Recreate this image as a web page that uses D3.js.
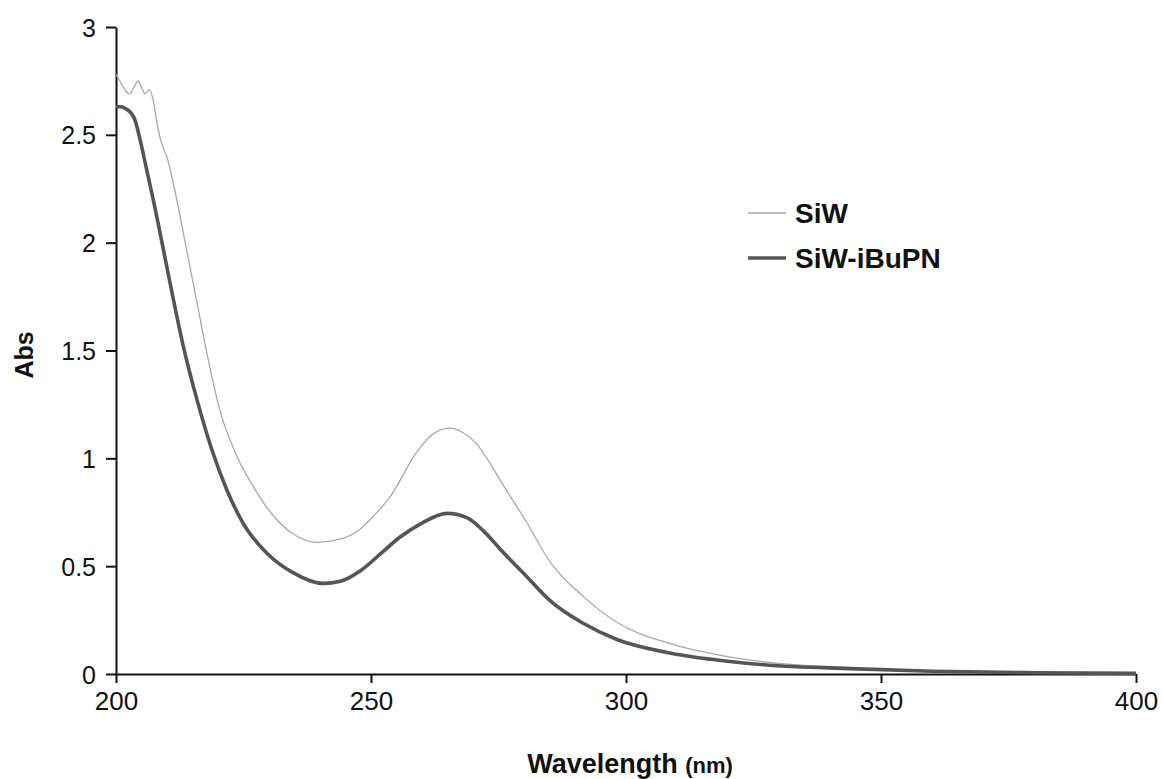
<!DOCTYPE html>
<html>
<head>
<meta charset="utf-8">
<script src="https://cdn.jsdelivr.net/npm/d3@7"></script>
<style>
  html, body { margin: 0; padding: 0; background: #fff; }
  svg { display: block; }
  text { font-family: "Liberation Sans", Arial, sans-serif; fill: #111; }
</style>
</head>
<body>
<svg id="chart" width="1163" height="779"></svg>
<script>
// ---- data ----
const siwWavelength = [200, 201, 202, 202.7, 203.5, 204.3, 205, 205.7, 206.5, 207.3, 208, 208.6, 210.2, 212, 213.9, 215.9, 217.8, 220.4, 223.7, 226.9, 230.8, 234.7, 239.4, 243.9, 247.8, 250, 253.7, 259, 262, 265.5, 268, 270.8, 273, 275.3, 280.6, 285.1, 291.6, 298.2, 308, 317.8, 327.6, 343.9, 360, 380, 400];
const siwAbs = [2.78, 2.74, 2.70, 2.69, 2.72, 2.75, 2.72, 2.69, 2.71, 2.66, 2.56, 2.49, 2.38, 2.19, 1.96, 1.72, 1.49, 1.22, 1.01, 0.87, 0.735, 0.65, 0.61, 0.625, 0.67, 0.72, 0.82, 1.03, 1.11, 1.14, 1.12, 1.065, 0.99, 0.90, 0.70, 0.52, 0.36, 0.24, 0.145, 0.09, 0.055, 0.03, 0.015, 0.008, 0.004];

const ibupnWavelength = [200, 201, 202, 203, 203.7, 204.7, 206, 207.3, 208.6, 210.2, 212, 213.1, 215.9, 218.8, 221.8, 224.9, 229.6, 234.7, 240.6, 244, 248, 252, 255.7, 260, 264.9, 268.8, 272, 275.3, 280.6, 285.1, 291.6, 298.2, 308, 317.8, 327.6, 343.9, 360, 380, 400];
const ibupnAbs = [2.63, 2.63, 2.62, 2.60, 2.57, 2.48, 2.34, 2.20, 2.05, 1.86, 1.65, 1.53, 1.27, 1.04, 0.85, 0.70, 0.56, 0.47, 0.42, 0.43, 0.48, 0.56, 0.635, 0.70, 0.745, 0.725, 0.665, 0.58, 0.45, 0.34, 0.235, 0.16, 0.10, 0.065, 0.042, 0.025, 0.013, 0.006, 0.003];

const xTicks = [200, 250, 300, 350, 400];
const yTicks = [0, 0.5, 1, 1.5, 2, 2.5, 3];
const seriesNames = ["SiW", "SiW-iBuPN"];

// ---- chart ----
const svg = d3.select("#chart");
const x = d3.scaleLinear().domain([200, 400]).range([116, 1136]);
const y = d3.scaleLinear().domain([0, 3]).range([674, 27]);

const xAxis = svg.append("g")
  .attr("transform", `translate(0,${y(0)})`)
  .call(d3.axisBottom(x).tickValues(xTicks).tickFormat(d3.format("d")).tickSize(9).tickSizeOuter(0).tickPadding(6));
const yAxis = svg.append("g")
  .attr("transform", `translate(${x(200)},0)`)
  .call(d3.axisLeft(y).tickValues(yTicks).tickFormat(d => String(d)).tickSize(10).tickSizeOuter(0).tickPadding(10));

[xAxis, yAxis].forEach(g => {
  g.selectAll("path.domain").attr("stroke", "#111").attr("stroke-width", 2);
  g.selectAll(".tick line").attr("stroke", "#111").attr("stroke-width", 2);
  g.selectAll(".tick text").attr("fill", "#111")
    .style("font-family", "'Liberation Sans', Arial, sans-serif");
});
xAxis.selectAll(".tick text").attr("dy", "0.82em").style("font-size", "26px");
yAxis.selectAll(".tick text").attr("dy", "0.36em").style("font-size", "25px");

const line = d3.line().x(d => x(d[0])).y(d => y(d[1])).curve(d3.curveMonotoneX);

const siwData = siwWavelength.map((w, i) => [w, siwAbs[i]]);
const ibupnData = ibupnWavelength.map((w, i) => [w, ibupnAbs[i]]);

svg.append("path").datum(siwData)
  .attr("d", line).attr("fill", "none")
  .attr("stroke", "#a8a8a8").attr("stroke-width", 1.3);
svg.append("path").datum(ibupnData)
  .attr("d", line).attr("fill", "none")
  .attr("stroke", "#555").attr("stroke-width", 3.6)
  .attr("stroke-linejoin", "round");

// axis titles
const xt = svg.append("text")
  .attr("x", 630).attr("y", 773)
  .attr("text-anchor", "middle")
  .style("font-weight", "bold");
xt.append("tspan").style("font-size", "27px").text("Wavelength ");
xt.append("tspan").style("font-size", "22px").text("(nm)");

svg.append("text")
  .attr("transform", "translate(33,355) rotate(-90)")
  .attr("text-anchor", "middle")
  .style("font-weight", "bold").style("font-size", "25px")
  .text("Abs");

// legend
const legend = svg.append("g");
const legendStyles = [
  { stroke: "#a8a8a8", width: 1.3 },
  { stroke: "#555", width: 3.6 }
];
seriesNames.forEach((name, i) => {
  const yy = 213 + i * 45;
  legend.append("line")
    .attr("x1", 748).attr("x2", 786).attr("y1", yy).attr("y2", yy)
    .attr("stroke", legendStyles[i].stroke).attr("stroke-width", legendStyles[i].width);
  legend.append("text")
    .attr("x", 795).attr("y", yy).attr("dy", "0.36em")
    .style("font-weight", "bold").style("font-size", "28px")
    .text(name);
});
</script>
</body>
</html>
